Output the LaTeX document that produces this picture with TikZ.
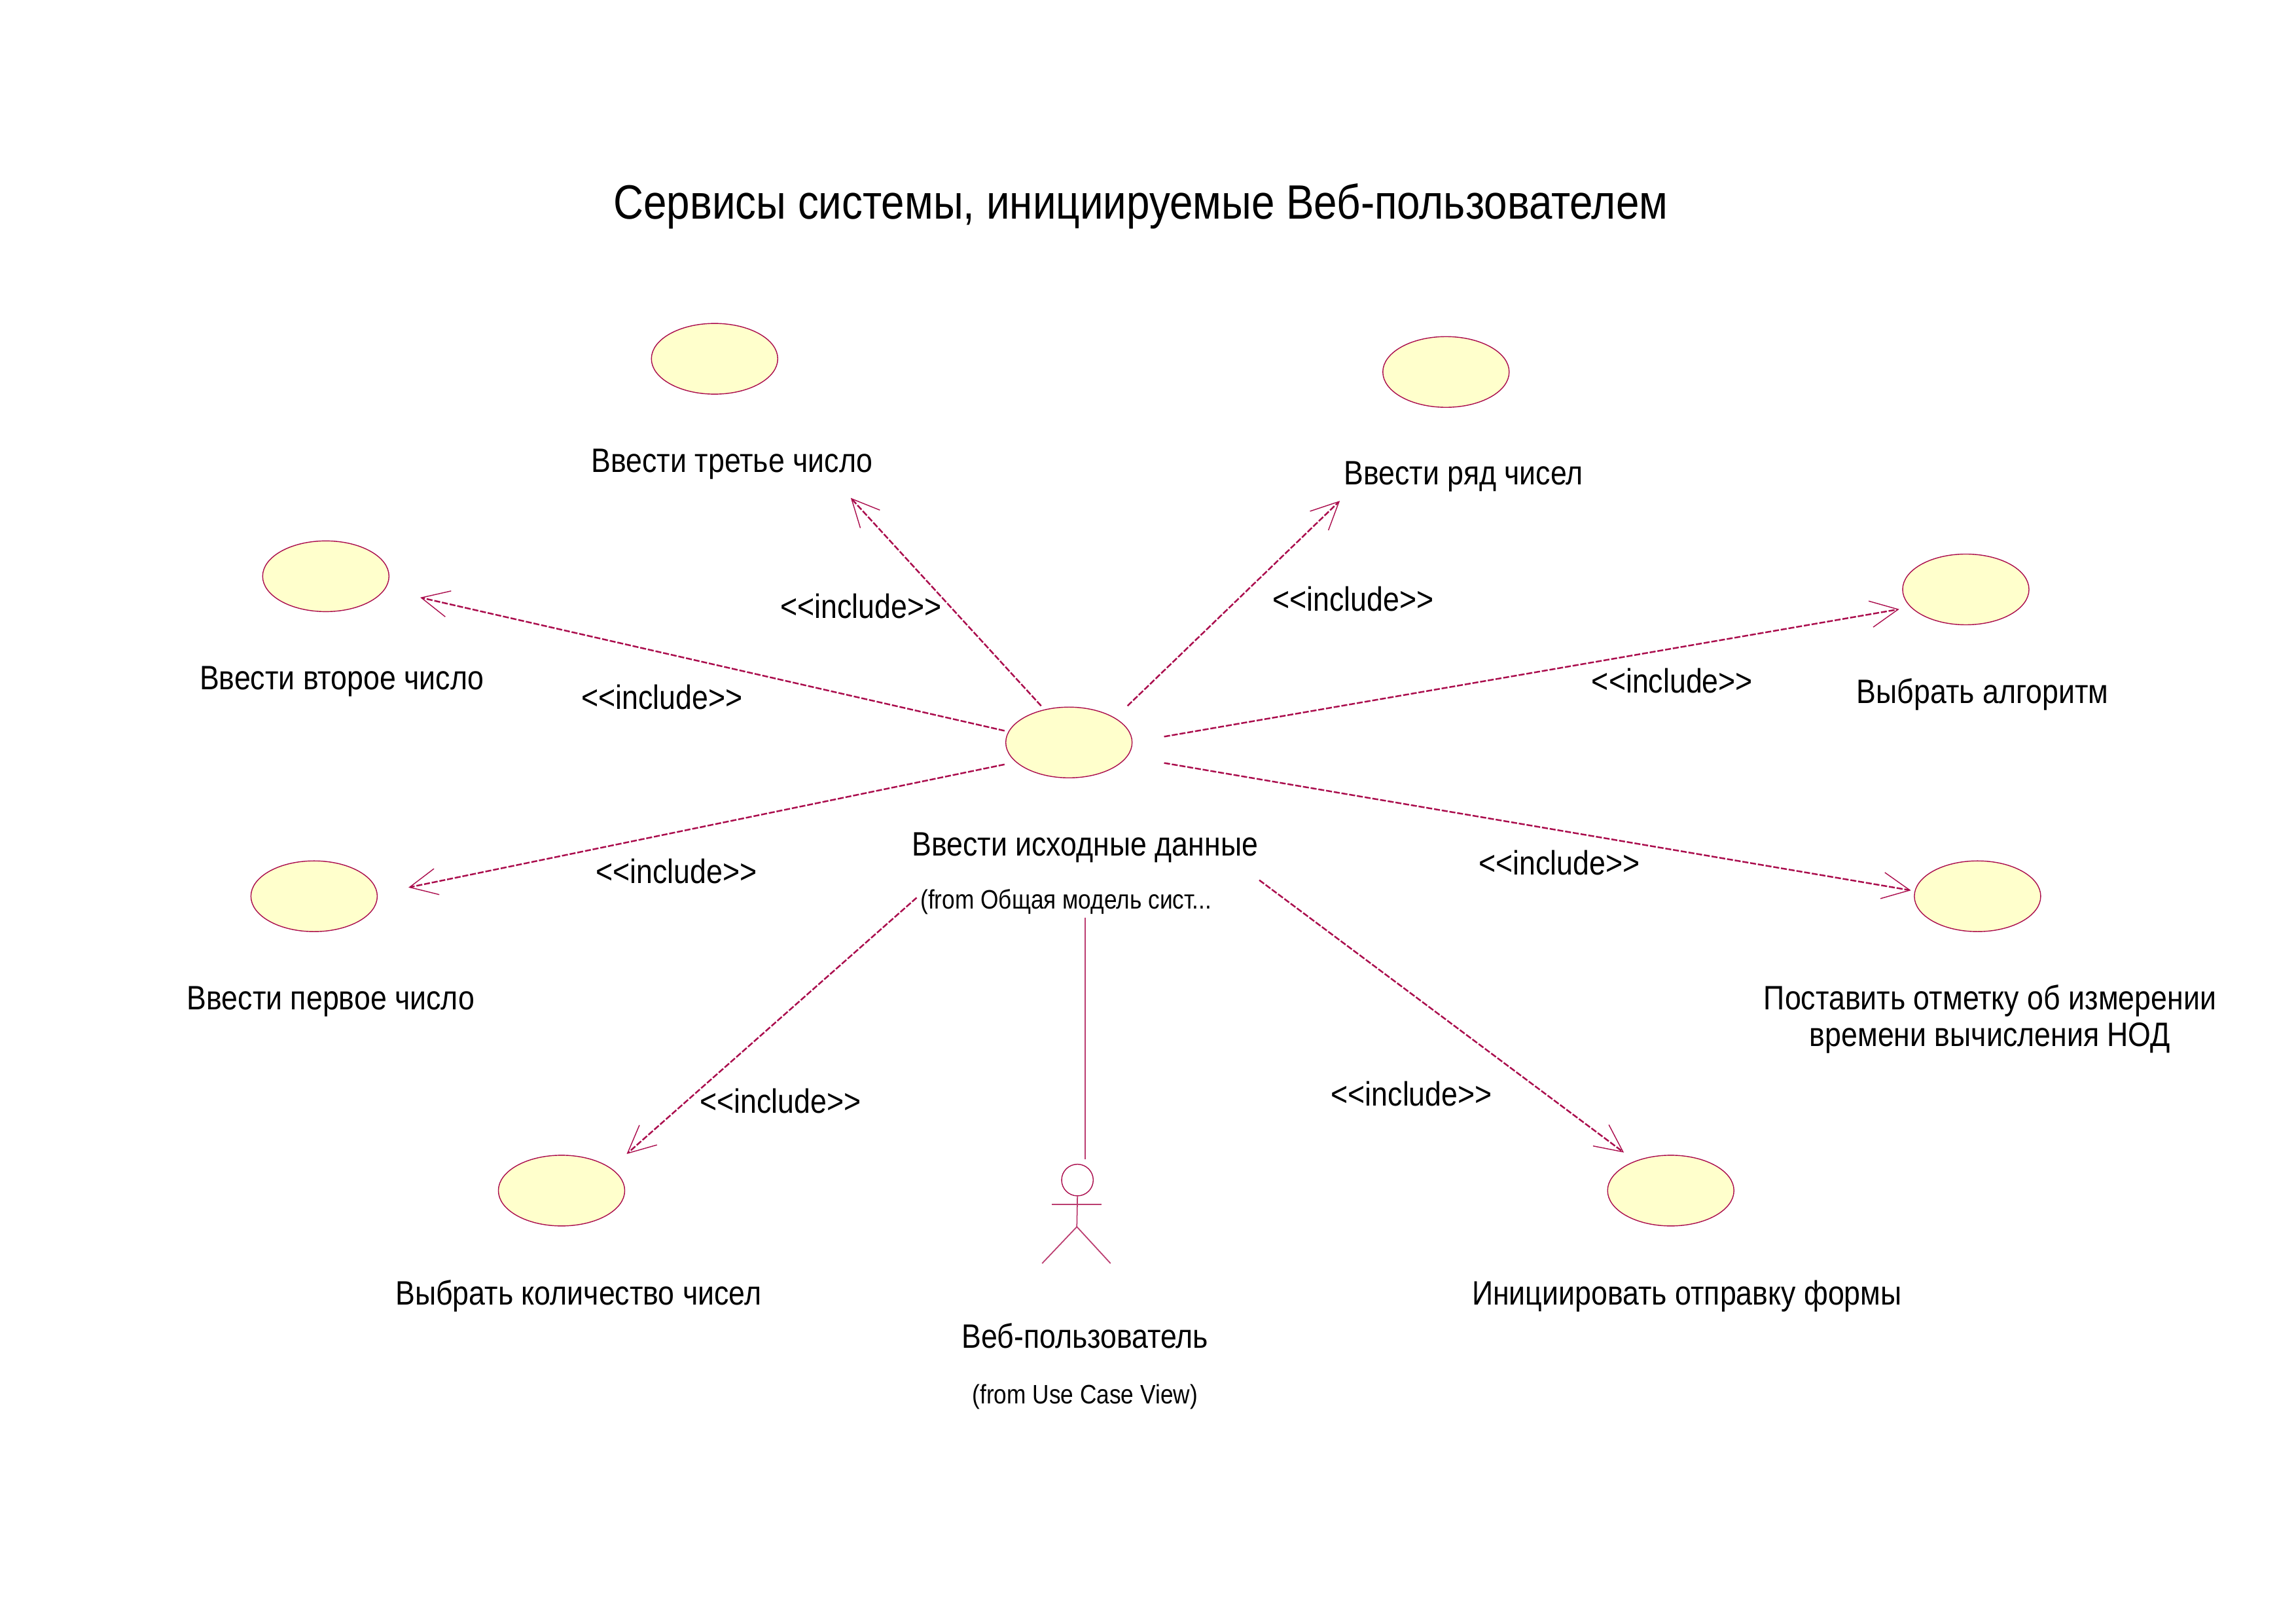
\documentclass[tikz,border=0pt]{standalone}
\usepackage{fontspec}
\setmainfont[FakeStretch=0.865]{Liberation Sans}
\usetikzlibrary{shapes.geometric,arrows.meta}
\definecolor{rosered}{RGB}{170,12,76}
\definecolor{caseyellow}{RGB}{255,255,204}
\newcommand{\inc}{<{}<include>{}>}
\tikzset{
	usecase/.style={ellipse,draw=rosered,fill=caseyellow,line width=0.4pt,inner sep=0,minimum width=1.93cm,minimum height=1.08cm},
	txt/.style={inner sep=0,font=\fontsize{14.7}{15.8}\selectfont,align=center},
	small/.style={inner sep=0,font=\fontsize{11.6}{14}\selectfont},
	incl/.style={rosered,line width=0.7pt,dash pattern=on 2.6pt off 0.8pt,-{Straight Barb[length=12pt,width=11.5pt,line width=0.4pt]}},
	assoc/.style={rosered!80,line width=0.5pt}
}
\begin{document}
\begin{tikzpicture}[x=0.02237cm,y=-0.02237cm,line cap=butt]
	\useasboundingbox (0,0) rectangle (1568,1108.6);
	
	% Title
	\node [inner sep=0,font=\fontsize{20.95}{24}\selectfont] (title) at (779,141) {Сервисы системы, инициируемые Веб-пользователем};
	
	% Central use case
	\node [usecase] (main) at (730,507) {};
	\node [txt] (mainlbl) at (741,579) {Ввести исходные данные};
	\node [small] (mainfrom) at (728,616) {(from Общая модель сист...};
	
	% Included use cases, upper half
	\node [usecase] (third) at (488,245) {};
	\node [txt] (thirdlbl) at (500,317) {Ввести третье число};
	\node [usecase] (series) at (987.5,254) {};
	\node [txt] (serieslbl) at (999.5,325.5) {Ввести ряд чисел};
	\node [usecase] (second) at (222.5,393.5) {};
	\node [txt] (secondlbl) at (233.5,465.5) {Ввести второе число};
	\node [usecase] (algo) at (1342.5,402.5) {};
	\node [txt] (algolbl) at (1354,474) {Выбрать алгоритм};
	
	% Included use cases, lower half
	\node [usecase] (first) at (214.5,612) {};
	\node [txt] (firstlbl) at (226,684) {Ввести первое число};
	\node [usecase] (mark) at (1350.5,612) {};
	\node [txt] (marklbl) at (1359,696) {Поставить отметку об измерении\\времени вычисления НОД};
	\node [usecase] (count) at (383.5,813) {};
	\node [txt] (countlbl) at (395,885) {Выбрать количество чисел};
	\node [usecase] (submit) at (1141,813) {};
	\node [txt] (submitlbl) at (1152,885) {Инициировать отправку формы};
	
	% Actor
	\node [circle,draw=rosered,line width=0.4pt,inner sep=0,minimum size=0.483cm] (actor) at (735.8,805.8) {};
	\coordinate (actortop) at (741,791.7);
	\coordinate (hip) at (735.4,837.7);
	\draw [assoc] (actor.south) -- (hip);
	\draw [assoc] (718.2,822.6) -- (752.2,822.6);
	\draw [assoc] (711.7,862.7) -- (hip) -- (758.4,862.7);
	\node [txt] (actorlbl) at (741,912) {Веб-пользователь};
	\node [small] (actorfrom) at (741,954) {(from Use Case View)};
	\draw [assoc,shorten <=1pt] (mainfrom.south -| actortop) -- (actortop);
	
	% Include relations
	\draw [incl] ([shift={(-19,-25)}]main.center) -- ([shift={(93,95)}]third.center);
	\draw [incl] ([shift={(40,-25)}]main.center) -- ([shift={(-72.5,88)}]series.center);
	\draw [incl] ([shift={(-44,-8)}]main.center) -- ([shift={(64.5,14.5)}]second.center);
	\draw [incl] ([shift={(65,-4)}]main.center) -- ([shift={(-45.5,13.5)}]algo.center);
	\draw [incl] ([shift={(-44,15)}]main.center) -- ([shift={(64.5,-6)}]first.center);
	\draw [incl] ([shift={(65,14)}]main.center) -- ([shift={(-45.5,-4)}]mark.center);
	\draw [incl] ([shift={(-104,106)}]main.center) -- ([shift={(44.5,-25)}]count.center);
	\draw [incl] ([shift={(130,94)}]main.center) -- ([shift={(-32,-26)}]submit.center);
	
	% Stereotype labels
	\node [txt] (inca) at (588,414) {\inc};
	\node [txt] (incb) at (924,409) {\inc};
	\node [txt] (incc) at (452,476) {\inc};
	\node [txt] (incd) at (1142,465) {\inc};
	\node [txt] (ince) at (462,595) {\inc};
	\node [txt] (incf) at (1065,589) {\inc};
	\node [txt] (incg) at (533,752) {\inc};
	\node [txt] (inch) at (964,747) {\inc};
\end{tikzpicture}
\end{document}
